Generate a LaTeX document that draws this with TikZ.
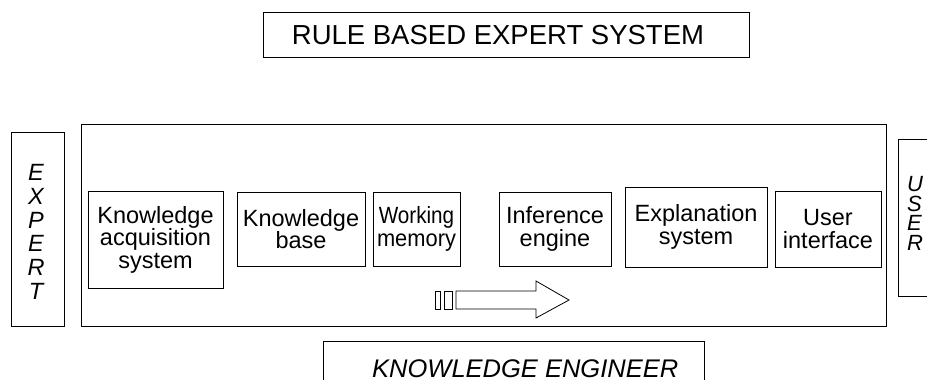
\documentclass[tikz,border=0pt]{standalone}
\usepackage{fontspec}
\setmainfont{Liberation Sans}
\begin{document}
\begin{tikzpicture}[x=1pt,y=1pt,
  box/.style={draw=black, line width=0.9pt, inner sep=0pt, fill=white},
  lbl/.style={align=center, font=\fontsize{23.5}{22.5}\selectfont},
  vert/.style={align=center, inner sep=0pt, font=\fontsize{23.5}{23.7}\selectfont\itshape}]
\useasboundingbox (0,0) rectangle (927,-380);

% title
\node[box, minimum width=486, minimum height=45] (title) at (506,-34.5) {};
\node[inner sep=0pt, anchor=base, font=\fontsize{27.5}{28}\selectfont] (titletext) at (498,-44.5) {RULE BASED EXPERT SYSTEM};

% side actors
\node[box, minimum width=53, minimum height=194] (expert) at (37.5,-229) {};
\node[vert] (experttext) at (36,-232) {E\\X\\P\\E\\R\\T};

\node[box, minimum width=70, minimum height=157, anchor=north west] (user) at (898,-139) {};
\node[vert, align=left, font=\fontsize{22}{19.5}\selectfont\itshape, anchor=north west] (usertext) at (907,-176.5) {U\\S\\E\\R};

% the expert system frame
\node[box, minimum width=805, minimum height=202] (main) at (483.5,-225) {};

% components
\node[box, lbl, minimum width=135, minimum height=97] (ka) at (155.5,-239.5) {Knowledge\\acquisition\\system};
\node[box, lbl, minimum width=128, minimum height=74] (kb) at (301,-229) {\raisebox{-2pt}{Knowledge}\\\raisebox{-2pt}{base}};
\node[box, lbl, minimum width=87, minimum height=74] (wm) at (416.5,-229) {\scalebox{0.88}[1]{Working}\\\scalebox{0.93}[1]{memory}};
\node[box, lbl, minimum width=112, minimum height=74] (ie) at (555,-229) {Inference\\engine};
\node[box, lbl, minimum width=142, minimum height=80] (es) at (696,-227) {Explanation\\system};
\node[box, lbl, minimum width=106, minimum height=76] (ui) at (828,-229) {User\\interface};

% flow arrow
\draw[line width=0.8pt] (435,-291) rectangle (440,-309);
\draw[line width=0.8pt] (444,-291) rectangle (452,-309);
\draw[line width=0.8pt, line join=miter] (456,-291) -- (536,-291) -- (536,-281) -- (569,-300)
  -- (536,-318) -- (536,-309) -- (456,-309) -- cycle;

% knowledge engineer
\node[box, minimum width=381, minimum height=70, anchor=north west] (ke) at (323,-341) {};
\node[inner sep=0pt, anchor=base west, font=\fontsize{25.5}{26}\selectfont\itshape] (ketext) at (372,-377) {KNOWLEDGE ENGINEER};
\end{tikzpicture}
\end{document}
